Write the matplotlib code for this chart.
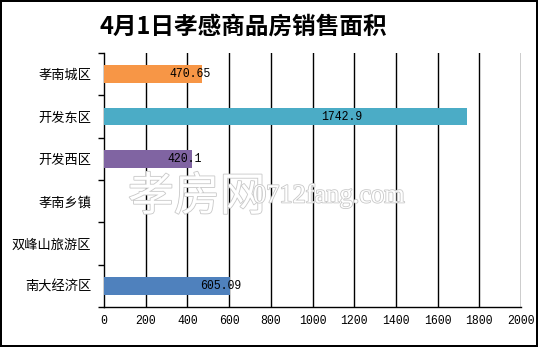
import matplotlib
matplotlib.use("Agg")
import matplotlib.pyplot as plt
import matplotlib.patheffects as pe
import numpy as np

categories = ["孝南城区", "开发东区", "开发西区", "孝南乡镇", "双峰山旅游区", "南大经济区"]
values = [470.65, 1742.9, 420.1, 0, 0, 605.09]
value_labels = ["470.65", "1742.9", "420.1", "", "", "605.09"]
colors = ["#F79646", "#4BACC6", "#8064A2", "#4F81BD", "#4F81BD", "#4F81BD"]
label_shift = [-58, -602, -32, 0, 0, -44]
xticks = list(range(0, 2001, 200))
title = "4月1日孝感商品房销售面积"

cjk = ["Noto Sans CJK SC", "DejaVu Sans"]
mono = ["Liberation Mono", "DejaVu Sans Mono"]

W, H = 538, 347
fig = plt.figure(figsize=(W / 100, H / 100), dpi=100)
fig.patch.set_facecolor("white")
fig.patch.set_edgecolor("black")
fig.patch.set_linewidth(1.5)

ax = fig.add_axes([104 / W, 1 - 307 / H, 417 / W, 254 / H])
y = np.arange(len(categories))
ax.barh(y, values, height=0.41, color=colors, zorder=3)
ax.set_xlim(0, 2000)
ax.set_ylim(len(categories) - 0.5, -0.5)

ax.set_xticks(xticks)
ax.set_xticklabels([str(t) for t in xticks], family=mono, fontsize=8.3)
ax.tick_params(axis="x", length=0, pad=6)
ax.set_yticks(y)
ax.set_yticklabels(categories, family=cjk, fontsize=9.5)
ax.tick_params(axis="y", which="major", length=0, pad=9)
ax.set_yticks(np.arange(-0.5, len(categories), 1), minor=True)
ax.tick_params(axis="y", which="minor", length=4, width=1, direction="out")

for t in xticks[1:]:
    ax.axvline(t, color="black", lw=1, zorder=1)

for s in ["top", "right"]:
    ax.spines[s].set_visible(False)
for s in ["left", "bottom"]:
    ax.spines[s].set_linewidth(1)
    ax.spines[s].set_color("black")

for i, (v, lab) in enumerate(zip(values, value_labels)):
    if lab:
        ax.text(v + label_shift[i], i, lab, ha="center", va="center",
                family=mono, fontsize=8.3, color="black", zorder=5)

fig.text(99 / W, 1 - 27 / H, title, ha="left", va="center",
         family=cjk, fontsize=17, fontweight="bold", color="black")

# watermark
wm = [pe.withStroke(linewidth=1.2, foreground="#c8c8c8")]
fig.text(128 / W, 1 - 197 / H, "孝房网", ha="left", va="center", family=cjk,
         fontsize=33, color="white", zorder=10, path_effects=wm)
fig.text(253 / W, 1 - 196 / H, "0712fang.com", ha="left", va="center",
         family=["Liberation Serif", "DejaVu Serif"], fontsize=19, color="white",
         zorder=10, path_effects=wm)

fig.savefig("out.png", dpi=100)
